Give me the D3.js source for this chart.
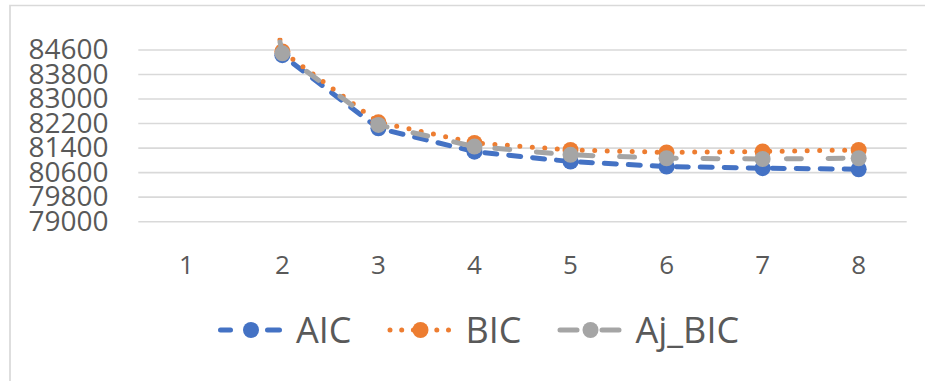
<!DOCTYPE html>
<html>
<head>
<meta charset="utf-8">
<script src="https://cdn.jsdelivr.net/npm/d3@7"></script>
<style>
  html, body { margin: 0; padding: 0; background: #fff; }
  svg { display: block; font-family: "Open Sans", sans-serif; }
</style>
</head>
<body>
<svg id="chart" width="925" height="381"></svg>
<script>
// data
const categories = [1, 2, 3, 4, 5, 6, 7, 8];
const aic    = [99300, 84430, 82045, 81285, 80960, 80800, 80745, 80710];
const bic    = [99700, 84550, 82240, 81570, 81340, 81260, 81290, 81340];
const ajBic  = [99500, 84490, 82155, 81450, 81180, 81070, 81045, 81070];
const yTicks = [79000, 79800, 80600, 81400, 82200, 83000, 83800, 84600];

const series = [
  { name: "AIC",    values: aic,   color: "#4472C4", width: 5, dash: "12 12",  legendDash: "10,37,12,100" },
  { name: "BIC",    values: bic,   color: "#ED7D31", width: 5, dash: "0 12.5", legendDash: "0 11.7" },
  { name: "Aj_BIC", values: ajBic, color: "#A5A5A5", width: 5, dash: "15 26.7", legendDash: "17,25,17,100" }
];

const svg = d3.select("#chart");
const plot = { left: 138.3, right: 906.7, top: 37.7, bottom: 221.7 };

// chart border (only left + top are in frame)
svg.append("path")
  .attr("d", "M10,381V5.5H925")
  .attr("fill", "none")
  .attr("stroke", "#d9d9d9")
  .attr("stroke-width", 1.7);

const x = d3.scaleBand().domain(categories).range([plot.left, plot.right]);
const y = d3.scaleLinear().domain([79000, 85000]).range([plot.bottom, plot.top]);
const cx = d => x(d) + x.bandwidth() / 2;

// gridlines
svg.append("g")
  .selectAll("line")
  .data(yTicks)
  .join("line")
  .attr("x1", plot.left).attr("x2", plot.right)
  .attr("y1", d => y(d)).attr("y2", d => y(d))
  .attr("stroke", "#d9d9d9")
  .attr("stroke-width", 1.6);

// y labels (tightly packed like the original)
svg.append("g")
  .selectAll("text")
  .data(yTicks)
  .join("text")
  .attr("x", 108.5)
  .attr("y", d => y(d) - 1)
  .attr("dy", "0.36em")
  .attr("text-anchor", "end")
  .attr("fill", "#595959")
  .attr("font-size", 28)
  .text(d => d);

// x labels
svg.append("g")
  .selectAll("text")
  .data(categories)
  .join("text")
  .attr("x", d => cx(d))
  .attr("y", 273.5)
  .attr("text-anchor", "middle")
  .attr("fill", "#595959")
  .attr("font-size", 26)
  .text(d => d);

// plot clip
svg.append("clipPath").attr("id", "plotclip")
  .append("rect")
  .attr("x", plot.left - 20).attr("y", plot.top)
  .attr("width", plot.right - plot.left + 40)
  .attr("height", plot.bottom - plot.top + 20);

const lines = svg.append("g").attr("clip-path", "url(#plotclip)");

const line = d3.line()
  .x((d, i) => cx(categories[i]))
  .y(d => y(d));

series.forEach(s => {
  const g = lines.append("g");
  g.append("path")
    .attr("d", line(s.values))
    .attr("fill", "none")
    .attr("stroke", s.color)
    .attr("stroke-width", s.width)
    .attr("stroke-linecap", "round")
    .attr("stroke-dasharray", s.dash);
  g.selectAll("circle")
    .data(s.values)
    .join("circle")
    .attr("cx", (d, i) => cx(categories[i]))
    .attr("cy", d => y(d))
    .attr("r", 8)
    .attr("fill", s.color);
});

// legend
const legend = svg.append("g").attr("transform", "translate(218,330)");
let lx = 0;
series.forEach(s => {
  const item = legend.append("g").attr("transform", `translate(${lx},0)`);
  item.append("line")
    .attr("x1", 2.5).attr("x2", 61.5)
    .attr("y1", 0).attr("y2", 0)
    .attr("stroke", s.color)
    .attr("stroke-width", s.width)
    .attr("stroke-linecap", "round")
    .attr("stroke-dasharray", s.legendDash);
  item.append("circle")
    .attr("cx", 33).attr("cy", 0).attr("r", 8)
    .attr("fill", s.color);
  const t = item.append("text")
    .attr("x", 78)
    .attr("y", 0)
    .attr("dy", "0.36em")
    .attr("fill", "#595959")
    .attr("font-size", 36)
    .text(s.name);
  const w = t.node().getComputedTextLength();
  lx += 78 + w + 36;
});
</script>
</body>
</html>
